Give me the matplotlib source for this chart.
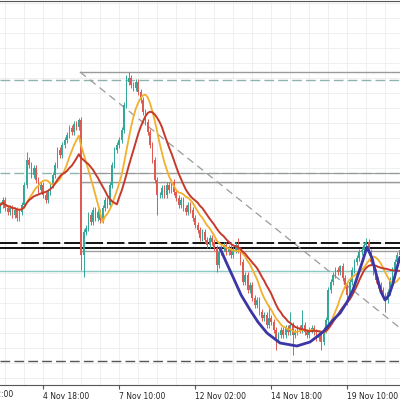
import numpy as np
import pandas as pd
import matplotlib.pyplot as plt

# 2h candles, price in chart points
closes = [195, 200, 192, 188, 192, 185, 190, 182, 188, 195,
          215, 240, 235, 225, 232, 220, 210, 215, 205, 200,
          208, 215, 225, 235, 250, 245, 255, 260, 265, 272,
          268, 276, 273, 280, 145, 168, 172, 185, 178, 190,
          182, 188, 180, 192, 200, 195, 215, 235, 250, 255,
          260, 270, 295, 318, 322, 315, 312, 318, 308, 300,
          288, 278, 268, 255, 240, 220, 205, 205, 212, 205,
          215, 210, 218, 208, 202, 195, 200, 192, 188, 195,
          190, 182, 175, 170, 162, 168, 160, 155, 162, 158,
          152, 135, 148, 152, 155, 148, 152, 145, 150, 155,
          150, 138, 118, 125, 110, 115, 102, 95, 100, 88,
          82, 85, 75, 82, 78, 70, 62, 65, 70, 65,
          72, 68, 75, 65, 68, 72, 70, 75, 68, 65,
          70, 72, 68, 62, 65, 58, 70, 80, 110, 118,
          125, 130, 128, 134, 122, 115, 105, 118, 130, 138,
          142, 148, 150, 155, 158, 148, 138, 128, 120, 115,
          110, 104, 100, 108, 120, 130, 138, 145, 150]
first_open = 190
high_wicks = {11: 248, 33: 282, 53: 325, 54: 328, 100: 162, 113: 95,
              122: 88, 127: 90, 143: 135, 154: 162}
low_wicks = {34: 130, 35: 123, 66: 185, 91: 128, 116: 50, 123: 45,
             135: 50, 146: 95, 162: 88}
base_wick = 3

tick_idx = [-14, 18, 50, 82, 114, 146]
tick_labels = ["2 Nov 02:00", "4 Nov 18:00", "7 Nov 10:00",
               "12 Nov 02:00", "14 Nov 18:00", "19 Nov 10:00"]

# cup drawing (candle index, price)
cup_x = [92.4, 95.0, 97.9, 101.3, 105.1, 108.4, 112.2, 117.7, 124.8, 130.3,
         135.8, 140.0, 143.0, 145.9, 148.4, 150.5, 152.6, 154.3, 156.4, 158.5,
         160.2, 161.9, 163.6, 165.3, 166.9, 168.2]
cup_y = [152, 138, 123, 105, 90, 78, 67, 57, 54, 58,
         68, 80, 87, 98, 110, 125, 140, 153, 142, 123,
         108, 100, 105, 117, 132, 143]

# horizontal levels: (price, start index, style, colour, width)
levels = [(320, None, (0, (7, 3)), "#8fb3b0", 1.0),
          (328, 33.5, "-", "#9a9a9a", 1.0),
          (227, None, (0, (7, 3)), "#8fb3b0", 1.0),
          (227, 33.5, "-", "#9a9a9a", 0.8),
          (218, 33.5, "-", "#9a9a9a", 1.0),
          (157, None, (0, (9, 2)), "#111111", 1.4),
          (152, None, "-", "#111111", 1.4),
          (149, 34, "-", "#a0a0a0", 1.0),
          (129, None, "-", "#8cc8c4", 1.0),
          (39, None, (0, (7, 3)), "#555555", 1.0)]
diag_x = [33.5, 168.2]
diag_y = [328, 72]

n = len(closes)
idx = np.arange(n)
c = np.array(closes, dtype=float)
o = np.concatenate([[first_open], c[:-1]])
hi = np.maximum(o, c) + base_wick
lo = np.minimum(o, c) - base_wick
for k, v in high_wicks.items():
    hi[k] = v
for k, v in low_wicks.items():
    lo[k] = v

s = pd.Series(c)
ma_fast = s.rolling(10, min_periods=1).mean()
ma_slow = s.rolling(16, min_periods=1).mean()

fig = plt.figure(figsize=(4, 4), dpi=100)
ax = fig.add_axes([0, 0.0375, 1, 0.96])

for gx in np.arange(2, 170, 8):
    ax.axvline(gx, color="#ececec", lw=0.6, zorder=0)
for gy in np.arange(22, 399, 15):
    ax.axhline(gy, color="#ececec", lw=0.6, zorder=0)

for p, start, ls, col, lw in levels:
    if start is None:
        ax.axhline(p, color=col, ls=ls, lw=lw, zorder=1)
    else:
        ax.plot([start, 170], [p, p], color=col, ls=ls, lw=lw, zorder=1)
ax.plot(diag_x, diag_y, color="#9a9a9a", ls=(0, (6, 4)), lw=0.9, zorder=1)

up = c >= o
colors = np.where(up, "#33a898", "#de5a52")
ax.vlines(idx, lo, hi, colors=colors, lw=0.7, zorder=2)
ax.bar(idx, np.abs(c - o) + 0.5, bottom=np.minimum(o, c), width=0.65,
       color=colors, zorder=2)

ax.plot(idx, ma_fast, color="#f2b02c", lw=1.3, zorder=3)
ax.plot(idx, ma_slow, color="#c63a2c", lw=1.4, zorder=3)
ax.plot(cup_x, cup_y, color="#3b36a6", lw=2.0, zorder=4,
        solid_capstyle="round", solid_joinstyle="round")

for side in ["left", "right"]:
    ax.spines[side].set_visible(False)
ax.spines["top"].set_color("#555555")
ax.spines["bottom"].set_color("#555555")
ax.set_yticks([])
ax.set_xticks(tick_idx[1:])
ax.set_xticklabels(tick_labels[1:], fontsize=5.5, ha="left", color="#222222")
ax.tick_params(axis="x", length=3, width=0.8, color="#555555", pad=2)
# first label sits left of the visible window and is cut by the edge
ax.text(tick_idx[0], -0.012, tick_labels[0], transform=ax.get_xaxis_transform(),
        fontsize=5.5, ha="left", va="top", color="#222222", clip_on=False)
ax.set_xlim(-0.2, 168.2)
ax.set_ylim(15, 399)

fig.savefig("out.png", dpi=100)
